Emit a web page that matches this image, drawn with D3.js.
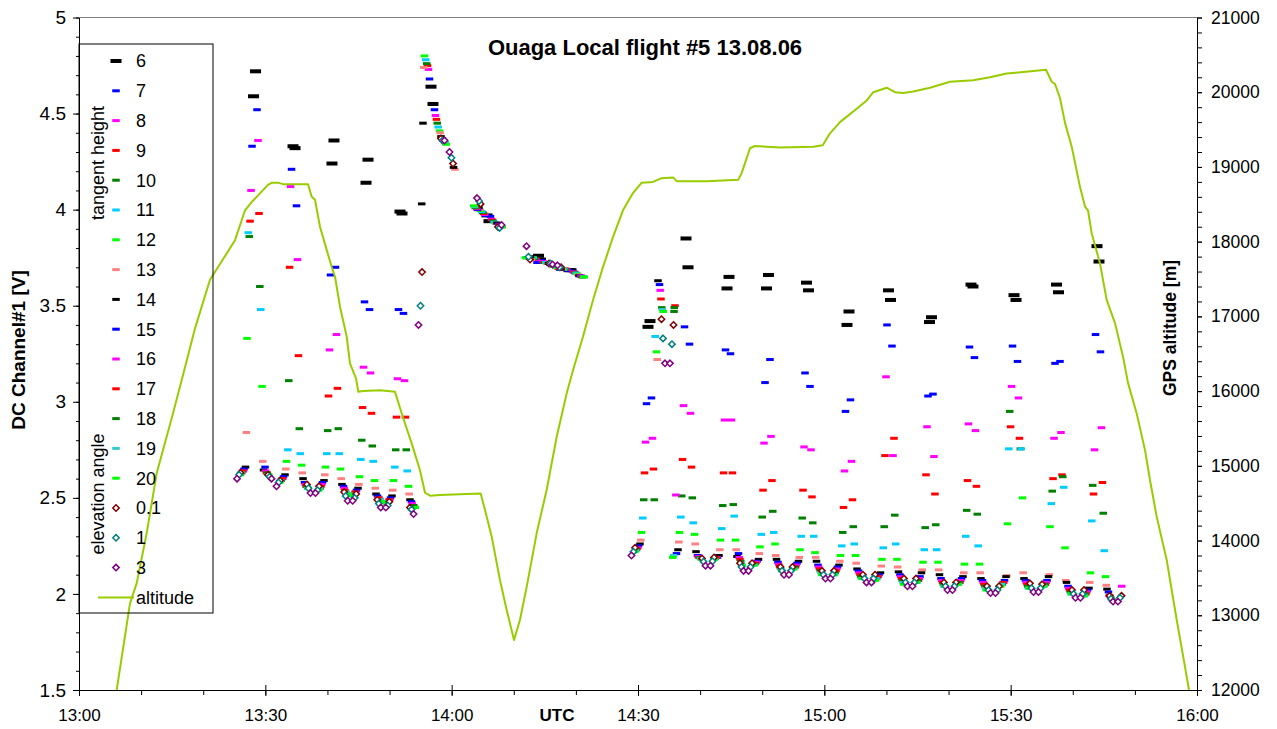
<!DOCTYPE html>
<html>
<head>
<meta charset="utf-8">
<script src="https://cdn.jsdelivr.net/npm/d3@7"></script>
<style>
  body { margin: 0; background: #fff; }
  svg { display: block; }
  text { font-family: "Liberation Sans", Arial, sans-serif; }
</style>
</head>
<body>
<svg id="chart" width="1277" height="729"></svg>
<script>
// ---------------------------------------------------------------------------
// Ouaga local flight #5, 13.08.06 – DC channel #1 during limb / elevation scans
// Times are minutes after 13:00 UTC.
// ---------------------------------------------------------------------------

// Centre (turning point) time of each tangent-height sweep
const sweepTimes = [28.26, 34.62, 40.89, 46.37, 51.84,
                    56.83, 65.85, 74.14, 79.05,
                    91.77, 97.89, 104.49, 110.85, 117.29, 123.81, 130.49,
                    137.09, 143.77, 150.70, 157.54, 164.06];

// Time of each tangent height before / after the sweep centre (minutes)
const tangentHeights = ["6","7","8","9","10","11","12","13","14","15","16","17","18","19","20"];
const sweepOffsets   = [0.16, 0.40, 0.56, 0.72, 0.85, 1.00, 1.21, 1.32, 1.45, 1.69, 1.80, 1.93, 2.06, 2.17, 2.29];

// Signal [V] per sweep: [way down, way up] for each tangent height
const th6  = [[4.59,4.72],[4.33,4.32],[4.24,4.36],[4.14,4.26],[3.99,3.98],[4.64,4.55],[3.97,3.94],[3.76,3.74],[3.685,3.685],[3.39,3.42],[3.85,3.70],[3.59,3.65],[3.59,3.66],[3.62,3.58],[3.40,3.47],[3.58,3.53],[3.415,3.44],[3.61,3.60],[3.555,3.53],[3.61,3.57],[3.81,3.73]];
const th7  = [[4.33,4.52],[4.21,4.02],[3.66,3.70],[3.52,3.48],[3.48,3.46],[4.68,4.52],[3.97,3.965],[3.725,3.735],[3.685,3.68],[2.99,3.02],[3.39,3.30],[3.27,3.25],[3.10,3.22],[3.15,3.08],[2.95,3.01],[3.40,3.29],[3.03,3.04],[3.285,3.23],[3.29,3.21],[3.20,3.21],[3.35,3.26]];
const th8  = [[4.10,4.36],[4.12,3.74],[3.27,3.35],[3.18,3.15],[3.12,3.11],[4.73,4.49],[3.975,3.95],[3.74,3.73],[3.69,3.675],[2.79,2.81],[2.98,2.94],[2.905,2.905],[2.785,2.82],[2.765,2.75],[2.64,2.69],[3.13,2.72],[2.87,2.715],[2.885,2.85],[3.08,3.02],[2.81,2.84],[2.75,2.865]];
const th9  = [[3.94,3.98],[3.70,3.24],[3.03,3.07],[2.97,2.94],[2.92,2.92],[4.75,4.47],[3.98,3.945],[3.745,3.725],[3.69,3.675],[2.63,2.65],[2.70,2.66],[2.63,2.63],[2.54,2.59],[2.54,2.505],[2.45,2.49],[2.72,2.81],[2.62,2.52],[2.59,2.56],[2.87,2.81],[2.60,2.62],[2.52,2.58]];
const th10 = [[3.86,3.60],[3.11,2.86],[2.85,2.86],[2.80,2.77],[2.75,2.75],[4.76,4.45],[3.985,3.94],[3.745,3.725],[3.69,3.67],[2.49,2.49],[2.51,2.50],[2.46,2.465],[2.40,2.43],[2.395,2.37],[2.32,2.35],[2.35,2.41],[2.345,2.36],[2.435,2.415],[2.95,2.755],[2.535,2.61],[2.565,2.42]];
const th11 = [[3.88,3.48],[2.75,2.73],[2.73,2.73],[2.70,2.69],[2.66,2.64],[4.78,4.43],[3.99,3.935],[3.75,3.725],[3.69,3.67],[2.395,3.34],[2.40,2.37],[2.34,2.405],[2.31,2.32],[2.30,2.30],[2.25,2.26],[2.24,2.26],[2.23,2.23],[2.30,2.25],[2.755,2.755],[2.47,2.555],[2.38,2.225]];
const th12 = [[3.33,3.08],[2.69,2.67],[2.66,2.65],[2.61,2.59],[2.59,2.56],[4.80,4.41],[3.995,3.93],[3.75,3.72],[3.69,3.665],[2.32,3.26],[2.32,2.31],[2.28,2.28],[2.245,2.26],[2.23,2.215],[2.20,2.20],[2.18,2.18],[2.165,2.165],[2.155,2.155],[2.365,2.50],[2.35,2.24],[2.11,2.09]];
const th13 = [[2.84,2.69],[2.65,2.63],[2.62,2.60],[2.57,2.55],[2.54,2.52],[4.74,4.40],[4.00,3.93],[3.74,3.72],[3.69,3.66],[2.28,3.22],[2.27,2.26],[2.23,2.23],[2.21,2.20],[2.19,2.19],[2.17,2.16],[2.145,2.14],[2.125,2.125],[2.11,2.11],[2.095,2.11],[2.10,2.07],[2.06,2.045]];
const th14 = [[2.66,2.645],[2.62,2.60],[2.59,2.57],[2.55,2.52],[2.51,2.49],[4.45,4.38],[4.01,3.93],[3.755,3.72],[3.69,3.656],[2.26,3.63],[2.23,2.22],[2.20,2.195],[2.18,2.18],[2.17,2.17],[2.15,2.13],[2.11,2.115],[2.11,2.10],[2.09,2.08],[2.09,2.08],[2.09,2.06],[2.03,2.025]];
const th15 = [[2.65,2.66],[2.61,2.58],[2.58,2.56],[2.54,2.51],[2.50,2.48],[null,4.37],[4.00,3.925],[3.75,3.715],[3.69,3.655],[2.25,3.61],[2.21,2.20],[2.19,2.21],[2.17,2.165],[2.16,2.15],[2.14,2.12],[2.10,2.10],[2.09,2.08],[2.08,2.07],[2.07,2.07],[2.07,2.04],[2.02,2.01]];
const th16 = [[2.64,2.64],[2.60,2.57],[2.57,2.55],[2.53,2.50],[2.49,2.47],[null,4.36],[4.005,3.92],[3.75,3.715],[3.695,3.655],[2.24,3.58],[2.515,2.195],[2.19,2.19],[2.165,2.155],[2.15,2.14],[2.13,2.11],[2.09,2.09],[2.08,2.07],[2.07,2.06],[2.06,2.06],[2.06,2.03],[2.01,1.99]];
const th17 = [[2.64,2.63],[2.60,2.56],[2.56,2.54],[2.53,2.50],[2.49,2.46],[null,4.36],[4.01,3.92],[3.75,3.71],[3.695,3.65],[2.235,3.535],[3.50,2.19],[2.19,2.18],[2.16,2.145],[2.14,2.13],[2.12,2.10],[2.09,2.08],[2.07,2.06],[2.06,2.05],[2.06,2.05],[2.05,2.02],[2.00,1.99]];
const th18 = [[2.63,2.63],[2.59,2.56],[2.55,2.53],[2.52,2.49],[2.48,2.46],[null,4.35],[4.01,3.915],[3.75,3.71],[3.70,3.65],[2.23,3.49],[3.49,2.19],[2.185,2.17],[2.155,2.135],[2.14,2.12],[2.11,2.09],[2.08,2.07],[2.07,2.05],[2.06,2.04],[2.05,2.04],[2.05,2.01],[2.00,1.98]];
const th19 = [[2.63,2.62],[2.59,2.55],[2.55,2.53],[2.52,2.49],[2.48,2.45],[null,4.35],[4.015,3.91],[3.75,3.705],[3.70,3.65],[2.225,3.48],[2.20,2.185],[2.18,2.16],[2.15,2.13],[2.13,2.11],[2.10,2.08],[2.08,2.06],[2.06,2.04],[2.05,2.03],[2.05,2.03],[2.04,2.00],[1.99,1.97]];
const th20 = [[2.62,2.62],[2.58,2.55],[2.54,2.52],[2.51,2.48],[2.47,2.45],[null,4.34],[4.02,3.91],[3.75,3.705],[3.70,3.65],[2.22,3.47],[2.19,2.18],[2.18,2.15],[2.15,2.12],[2.13,2.10],[2.10,2.08],[2.07,2.05],[2.06,2.04],[2.05,2.02],[2.04,2.03],[2.04,2.00],[1.99,1.97]];

// Elevation-angle scans: centre time of each scan and signal [V] going in / coming out
const elevAngles  = ["0.1", "1", "3"];
const elevTimes   = [25.04, 31.40, 37.67, 43.66, 48.99, 54.26, 59.25, 63.68, 68.43, 71.65, 76.64,
                     88.55, 94.75, 101.27, 107.39, 113.91, 120.59, 127.19, 133.79, 140.23, 147.16, 154.08, 160.84, 166.88];
const elevOffsets = [0.97, 0.72, 0.40];
const el01 = [[null,2.63],[2.62,2.59],[2.57,2.56],[2.53,2.52],[2.49,2.48],[2.45,3.675],[4.37,4.24],[null,4.03],[3.91,null],[null,3.74],[3.72,3.70],
              [null,2.24],[3.43,3.40],[2.185,2.19],[2.16,2.16],[2.14,2.14],[2.12,2.12],[2.10,2.10],[2.08,2.08],[2.06,2.06],[2.04,2.04],[2.055,2.05],[2.02,2.02],[1.99,1.99]];
const el1  = [[null,2.62],[2.61,2.58],[2.55,2.54],[2.51,2.50],[2.47,2.46],[2.44,3.50],[4.36,4.27],[null,4.045],[3.905,null],[null,3.755],[3.72,3.70],
              [null,2.22],[3.33,3.30],[2.168,2.17],[2.14,2.14],[2.12,2.12],[2.10,2.10],[2.08,2.08],[2.06,2.06],[2.04,2.04],[2.02,2.02],[2.03,2.03],[2.00,2.00],[1.975,1.98]];
const el3  = [[null,2.60],[2.60,2.56],[2.525,2.525],[2.485,2.485],[2.45,2.45],[2.416,3.40],[4.36,4.30],[null,4.06],[3.92,null],[null,3.81],[3.715,3.71],
              [null,2.20],[3.20,3.20],[2.147,2.147],[2.12,2.12],[2.10,2.10],[2.08,2.08],[2.06,2.06],[2.04,2.04],[2.02,2.02],[2.005,2.005],[2.01,2.01],[1.98,1.98],[1.96,1.96]];

// Isolated readings outside the regular sweep pattern: [tangent height, minute, V]
const looseReadings = [["14", 55.18, 4.03], ["14", 60.30, 4.22], ["13", 60.54, 4.21],
                       ["10", 95.80, 3.47], ["16", 167.88, 2.04]];

// GPS altitude [minute, m]
const altitudeTrace = [
  [6.07,12000],[8.21,13160],[9.29,13430],[10.90,14100],[12.51,14900],[15.13,15700],[17.07,16320],[18.68,16840],
  [21.09,17490],[22.70,17700],[25.12,18020],[26.73,18420],[27.80,18530],[28.61,18600],[30.43,18760],[31.07,18790],
  [32.04,18790],[32.84,18770],[36.87,18770],[37.47,18600],[38.00,18560],[38.80,18200],[39.88,17890],[40.69,17660],
  [41.22,17530],[42.02,17130],[43.10,16730],[43.63,16370],[44.60,16170],[44.97,15990],[45.72,16000],[48.46,16010],
  [50.88,15990],[51.96,15700],[53.56,15300],[54.90,14940],[55.71,14640],[56.51,14600],[58.12,14610],[64.67,14630],
  [65.37,14410],[66.45,14050],[67.78,13470],[68.86,13070],[70.04,12670],[71.00,12940],[72.08,13380],[73.69,14100],
  [75.30,14680],[76.91,15390],[78.52,15970],[79.54,16280],[81.15,16730],[82.76,17220],[84.36,17660],[85.97,18060],
  [87.58,18420],[89.19,18650],[90.60,18790],[92.41,18800],[93.82,18850],[95.64,18860],[96.23,18810],[101.06,18810],
  [106.15,18830],[106.70,18920],[108.03,19250],[108.84,19280],[112.86,19260],[118.22,19270],[119.74,19290],
  [120.91,19450],[122.52,19600],[125.21,19780],[126.82,19890],[127.88,20000],[130.04,20060],[131.38,20000],
  [132.71,19990],[134.32,20010],[137.01,20060],[140.23,20140],[143.98,20160],[146.67,20200],[149.36,20250],
  [152.03,20270],[155.69,20300],[156.61,20140],[157.14,20110],[157.95,19920],[158.75,19590],[159.83,19270],
  [161.17,18730],[161.97,18470],[162.45,18420],[163.05,18110],[164.38,17710],[165.46,17220],[166.80,16910],
  [168.09,16460],[168.89,16110],[170.29,15700],[171.63,15210],[172.43,14810],[173.51,14320],[175.12,13740],
  [176.73,12940],[178.07,12310],[178.71,12000]
];

// Axis ticks
const voltTicks = [1.5, 2, 2.5, 3, 3.5, 4, 4.5, 5];
const altTicks  = [12000, 13000, 14000, 15000, 16000, 17000, 18000, 19000, 20000, 21000];
const timeTicks = [0, 30, 60, 90, 120, 150, 180];

// ---------------------------------------------------------------------------
// Styles
const tangentColors = ["#000000","#0000FF","#FF00FF","#FF0000","#008000","#00CCFF","#00FF00","#FF8080",
                       "#000000","#0000FF","#FF00FF","#FF0000","#008000","#33CCCC","#00FF00"];
const elevColors = ["#800000", "#008080", "#800080"];
const altColor = "#99CC00";

const plot = { left: 79, right: 1197, top: 17.5, bottom: 690 };

const svg = d3.select("#chart");

const x = d3.scaleLinear().domain([0, 180]).range([plot.left, plot.right]);
const yV = d3.scaleLinear().domain([1.5, 5]).range([plot.bottom, plot.top]);
const yAlt = d3.scaleLinear().domain([12000, 21000]).range([plot.bottom, plot.top]);

// frame (top edge)
svg.append("line")
  .attr("x1", plot.left).attr("x2", plot.right)
  .attr("y1", plot.top).attr("y2", plot.top)
  .attr("stroke", "#808080").attr("stroke-width", 1);

const clipId = "plotClip";
svg.append("clipPath").attr("id", clipId).append("rect")
  .attr("x", plot.left).attr("y", plot.top)
  .attr("width", plot.right - plot.left).attr("height", plot.bottom - plot.top);

const marks = svg.append("g").attr("clip-path", `url(#${clipId})`);

// ---- tangent-height dashes ----
const thArrays = [th6, th7, th8, th9, th10, th11, th12, th13, th14, th15, th16, th17, th18, th19, th20];

thArrays.forEach((arr, i) => {
  const h = tangentHeights[i];
  const off = sweepOffsets[i];
  const pts = [];
  arr.forEach((pair, k) => {
    if (pair[0] != null) pts.push([sweepTimes[k] - off, pair[0]]);
    if (pair[1] != null) pts.push([sweepTimes[k] + off, pair[1]]);
  });
  looseReadings.filter(r => r[0] === h).forEach(r => pts.push([r[1], r[2]]));
  const big = i === 0;
  const w = big ? 11 : 7.5, hh = big ? 4 : 3;
  marks.append("g").selectAll("rect").data(pts).join("rect")
    .attr("x", d => x(d[0]) - w / 2)
    .attr("y", d => yV(d[1]) - hh / 2)
    .attr("width", w).attr("height", hh)
    .attr("fill", tangentColors[i]);
});

// ---- elevation-angle diamonds ----
const diamond = "M0,-3.2L3.2,0L0,3.2L-3.2,0Z";
[el01, el1, el3].forEach((arr, i) => {
  const off = elevOffsets[i];
  const pts = [];
  arr.forEach((pair, k) => {
    if (pair[0] != null) pts.push([elevTimes[k] - off, pair[0]]);
    if (pair[1] != null) pts.push([elevTimes[k] + off, pair[1]]);
  });
  marks.append("g").selectAll("path").data(pts).join("path")
    .attr("d", diamond)
    .attr("transform", d => `translate(${x(d[0])},${yV(d[1])})`)
    .attr("fill", "#fff")
    .attr("stroke", elevColors[i])
    .attr("stroke-width", 1.5);
});

// ---- GPS altitude ----
marks.append("path")
  .datum(altitudeTrace)
  .attr("d", d3.line().x(d => x(d[0])).y(d => yAlt(d[1])))
  .attr("fill", "none")
  .attr("stroke", altColor)
  .attr("stroke-width", 2)
  .attr("stroke-linejoin", "round");

// ---------------------------------------------------------------------------
// Axes
function styleAxis(size) {
  return g => {
    g.attr("font-family", null).attr("font-size", null).attr("color", "#000");
    g.selectAll("text").attr("font-size", size).attr("fill", "#000");
    g.selectAll("line, path").attr("stroke", "#000");
  };
}

// left voltage axis
const yMinor = d3.range(15, 51).map(v => v / 10);
svg.append("g").attr("transform", `translate(${plot.left},0)`)
  .call(d3.axisLeft(yV).tickValues(yMinor).tickSize(3).tickFormat(""))
  .call(g => g.select(".domain").remove())
  .call(styleAxis(19));
svg.append("g").attr("transform", `translate(${plot.left},0)`)
  .call(d3.axisLeft(yV).tickValues(voltTicks).tickSizeInner(6).tickSizeOuter(0).tickPadding(7)
        .tickFormat(d3.format("")))
  .call(styleAxis(19));

// right altitude axis
const altMinor = d3.range(12000, 21001, 200);
svg.append("g").attr("transform", `translate(${plot.right},0)`)
  .call(d3.axisRight(yAlt).tickValues(altMinor).tickSize(5).tickFormat(""))
  .call(g => g.select(".domain").remove())
  .call(styleAxis(17.5));
svg.append("g").attr("transform", `translate(${plot.right},0)`)
  .call(d3.axisRight(yAlt).tickValues(altTicks).tickSizeInner(5).tickSizeOuter(0).tickPadding(9)
        .tickFormat(d3.format("d")))
  .call(styleAxis(17.5));

// bottom time axis
const timeMinor = d3.range(0, 181, 10);
const fmtTime = m => `${13 + Math.floor(m / 60)}:${String(m % 60).padStart(2, "0")}`;
svg.append("g").attr("transform", `translate(0,${plot.bottom})`)
  .call(d3.axisBottom(x).tickValues(timeMinor).tickSize(5).tickFormat(""))
  .call(g => g.select(".domain").remove())
  .call(styleAxis(17));
svg.append("g").attr("transform", `translate(0,${plot.bottom})`)
  .call(d3.axisBottom(x).tickValues(timeTicks).tickSizeInner(6).tickSizeOuter(0).tickPadding(13)
        .tickFormat(fmtTime))
  .call(g => g.selectAll(".tick line").attr("y1", -5))
  .call(styleAxis(17));

// ---------------------------------------------------------------------------
// Titles
svg.append("text")
  .attr("x", 645).attr("y", 55)
  .attr("text-anchor", "middle")
  .attr("font-size", 22).attr("font-weight", "bold")
  .text("Ouaga Local flight #5 13.08.06");

svg.append("text")
  .attr("transform", "translate(25,350) rotate(-90)")
  .attr("text-anchor", "middle")
  .attr("font-size", 19).attr("font-weight", "bold")
  .text("DC Channel#1 [V]");

svg.append("text")
  .attr("transform", "translate(1176,328) rotate(-90)")
  .attr("text-anchor", "middle")
  .attr("font-size", 17.5).attr("font-weight", "bold")
  .text("GPS altitude [m]");

svg.append("text")
  .attr("x", 557).attr("y", 721)
  .attr("text-anchor", "middle")
  .attr("font-size", 17).attr("font-weight", "bold")
  .text("UTC");

// ---------------------------------------------------------------------------
// Legend
const legendFont = 18;
const legend = svg.append("g");
legend.append("rect")
  .attr("x", 79).attr("y", 44).attr("width", 134).attr("height", 569)
  .attr("fill", "none").attr("stroke", "#000").attr("stroke-width", 1);

const legendTop = 61, legendStep = 29.8, symX = 116, labelX = 136;

tangentHeights.forEach((h, i) => {
  const cy = legendTop + i * legendStep;
  const big = i === 0;
  const w = big ? 11 : 7.5, hh = big ? 4 : 3;
  legend.append("rect").attr("x", symX - w / 2).attr("y", cy - hh / 2)
    .attr("width", w).attr("height", hh).attr("fill", tangentColors[i]);
  legend.append("text").attr("x", labelX).attr("y", cy).attr("dy", "0.35em")
    .attr("font-size", legendFont).text(h);
});
elevAngles.forEach((a, i) => {
  const cy = legendTop + (15 + i) * legendStep;
  legend.append("path").attr("d", diamond)
    .attr("transform", `translate(${symX},${cy})`)
    .attr("fill", "#fff").attr("stroke", elevColors[i]).attr("stroke-width", 1.5);
  legend.append("text").attr("x", labelX).attr("y", cy).attr("dy", "0.35em")
    .attr("font-size", legendFont).text(a);
});
{
  const cy = legendTop + 18 * legendStep;
  legend.append("line").attr("x1", 98).attr("x2", 134).attr("y1", cy).attr("y2", cy)
    .attr("stroke", altColor).attr("stroke-width", 2);
  legend.append("text").attr("x", labelX).attr("y", cy).attr("dy", "0.35em")
    .attr("font-size", legendFont).text("altitude");
}
legend.append("text")
  .attr("transform", "translate(104,163) rotate(-90)")
  .attr("text-anchor", "middle").attr("font-size", legendFont)
  .text("tangent height");
legend.append("text")
  .attr("transform", "translate(104,494) rotate(-90)")
  .attr("text-anchor", "middle").attr("font-size", legendFont)
  .text("elevation angle");
</script>
</body>
</html>
